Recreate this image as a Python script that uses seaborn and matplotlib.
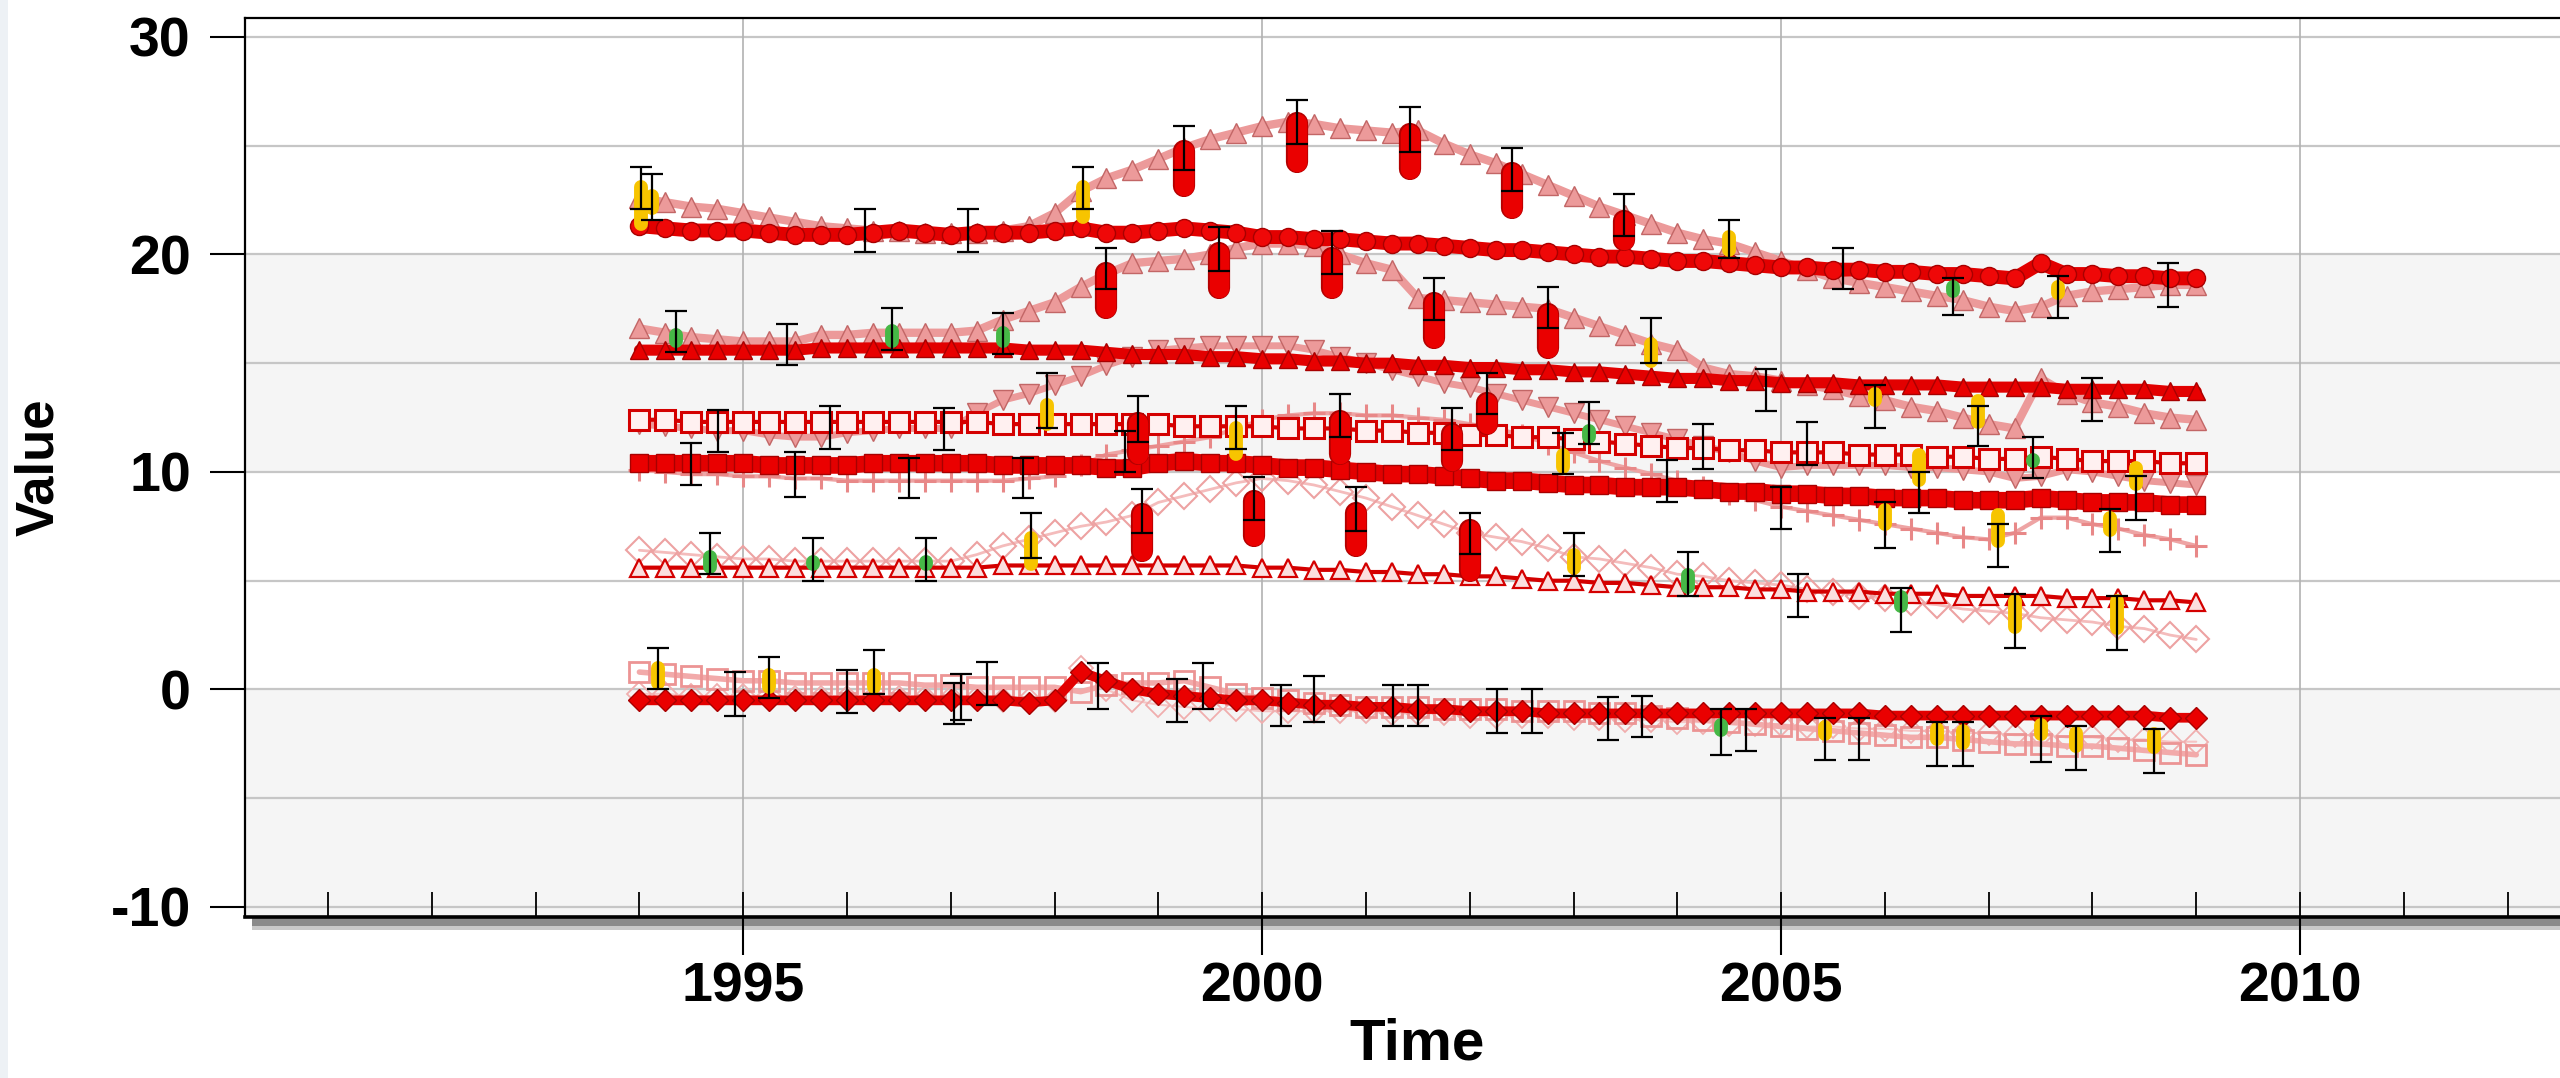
import numpy as np
import matplotlib
matplotlib.use("Agg")
import matplotlib.pyplot as plt
from matplotlib.patches import Rectangle
from matplotlib.ticker import FixedLocator
import seaborn as sns

# model output, one value per quarter year
years = np.arange(1994.0, 2009.001, 0.25)

circ_top = [
    21.3, 21.2, 21.1, 21.1, 21.1, 21.0, 20.9, 20.9, 20.9, 21.0, 21.1, 21.0,
    20.9, 21.0, 21.0, 21.0, 21.1, 21.2, 21.0, 21.0, 21.1, 21.2, 21.1, 21.0,
    20.8, 20.8, 20.7, 20.7, 20.6, 20.5, 20.5, 20.4, 20.3, 20.2, 20.2, 20.1,
    20.0, 19.9, 19.9, 19.8, 19.7, 19.7, 19.6, 19.5, 19.4, 19.4, 19.3, 19.3,
    19.2, 19.2, 19.1, 19.1, 19.0, 18.9, 19.6, 19.1, 19.1, 19.0, 19.0, 18.9,
    18.9]
tri_top = [
    22.6, 22.4, 22.2, 22.1, 21.9, 21.7, 21.5, 21.3, 21.2, 21.1, 21.1, 21.0,
    21.0, 21.0, 21.1, 21.3, 21.9, 22.9, 23.5, 23.9, 24.4, 24.9, 25.3, 25.6,
    25.9, 26.1, 26.0, 25.8, 25.7, 25.6, 25.7, 25.1, 24.6, 24.2, 23.7, 23.2,
    22.7, 22.2, 21.8, 21.4, 21.0, 20.7, 20.5, 20.1, 19.7, 19.3, 18.9, 18.7,
    18.5, 18.3, 18.1, 17.9, 17.6, 17.4, 17.6, 18.1, 18.3, 18.4, 18.5, 18.6,
    18.6]
circ_mid = [
    15.6, 15.6, 15.6, 15.6, 15.6, 15.6, 15.6, 15.7, 15.7, 15.7, 15.7, 15.7,
    15.7, 15.7, 15.7, 15.6, 15.6, 15.6, 15.5, 15.4, 15.4, 15.4, 15.3, 15.3,
    15.2, 15.2, 15.1, 15.1, 15.0, 15.0, 14.9, 14.9, 14.8, 14.8, 14.7, 14.7,
    14.6, 14.6, 14.5, 14.4, 14.3, 14.3, 14.2, 14.2, 14.1, 14.1, 14.1, 14.0,
    14.0, 14.0, 14.0, 13.9, 13.9, 13.9, 13.9, 13.8, 13.8, 13.8, 13.8, 13.7,
    13.7]
tri_mid = [
    16.6, 16.4, 16.2, 16.1, 16.0, 16.0, 16.0, 16.3, 16.3, 16.4, 16.4, 16.4,
    16.4, 16.5, 17.0, 17.4, 17.8, 18.5, 19.1, 19.6, 19.7, 19.8, 20.0, 20.3,
    20.5, 20.5, 20.4, 20.0, 19.6, 19.3, 18.0, 17.9, 17.8, 17.7, 17.6, 17.5,
    17.1, 16.7, 16.3, 15.9, 15.6, 14.8, 14.5, 14.4, 14.2, 14.0, 13.8, 13.5,
    13.3, 13.0, 12.8, 12.5, 12.2, 12.0, 14.3, 13.6, 13.2, 13.0, 12.7, 12.5,
    12.4]
sq_upper = [
    12.4, 12.4, 12.3, 12.3, 12.3, 12.3, 12.3, 12.3, 12.3, 12.3, 12.3, 12.3,
    12.3, 12.3, 12.2, 12.2, 12.2, 12.2, 12.2, 12.2, 12.2, 12.1, 12.1, 12.1,
    12.1, 12.0, 12.0, 12.0, 11.9, 11.9, 11.8, 11.8, 11.7, 11.7, 11.6, 11.6,
    11.5, 11.4, 11.3, 11.2, 11.1, 11.1, 11.0, 11.0, 10.9, 10.9, 10.9, 10.8,
    10.8, 10.8, 10.7, 10.7, 10.6, 10.6, 10.7, 10.6, 10.5, 10.5, 10.5, 10.4,
    10.4]
tri_down = [
    12.2, 12.1, 12.0, 11.9, 11.9, 11.7, 11.6, 11.6, 11.8, 11.9, 12.0, 12.0,
    12.0, 12.7, 13.3, 13.6, 14.0, 14.4, 14.9, 15.3, 15.6, 15.7, 15.8, 15.8,
    15.8, 15.8, 15.6, 15.3, 15.0, 14.7, 14.4, 14.1, 13.9, 13.6, 13.3, 13.0,
    12.7, 12.4, 12.1, 11.8, 11.5, 11.2, 10.9, 10.5, 10.2, 10.3, 10.3, 10.3,
    10.3, 10.2, 10.2, 10.1, 10.0, 9.7, 9.8, 10.1, 10.0, 9.8, 9.6, 9.5,
    9.4]
circ_low = [
    10.4, 10.4, 10.4, 10.4, 10.4, 10.3, 10.3, 10.3, 10.3, 10.4, 10.4, 10.4,
    10.4, 10.4, 10.3, 10.3, 10.3, 10.3, 10.2, 10.2, 10.4, 10.5, 10.4, 10.4,
    10.3, 10.2, 10.2, 10.1, 10.0, 9.9, 9.9, 9.8, 9.7, 9.6, 9.6, 9.5,
    9.4, 9.4, 9.3, 9.3, 9.3, 9.2, 9.1, 9.1, 9.0, 9.0, 8.9, 8.9,
    8.8, 8.8, 8.8, 8.7, 8.7, 8.7, 8.8, 8.7, 8.6, 8.6, 8.6, 8.5,
    8.5]
cross = [
    10.1, 10.0, 9.9, 9.9, 9.8, 9.8, 9.7, 9.7, 9.6, 9.6, 9.6, 9.6,
    9.6, 9.6, 9.6, 9.7, 9.8, 10.3, 10.8, 11.0, 11.2, 11.4, 11.6, 12.0,
    12.4, 12.6, 12.7, 12.7, 12.6, 12.6, 12.5, 12.4, 12.2, 12.0, 11.7, 11.3,
    10.9, 10.5, 10.2, 9.9, 9.6, 9.3, 9.0, 8.7, 8.4, 8.2, 8.0, 7.8,
    7.6, 7.4, 7.2, 7.0, 6.9, 7.2, 7.9, 7.9, 7.6, 7.4, 7.1, 6.9,
    6.6]
diamond = [
    6.4, 6.3, 6.2, 6.1, 6.0, 6.0, 5.9, 5.9, 5.9, 5.9, 5.9, 5.9,
    5.9, 6.2, 6.6, 6.9, 7.2, 7.5, 7.7, 8.0, 8.6, 8.9, 9.2, 9.5,
    9.7, 9.6, 9.4, 9.1, 8.8, 8.4, 8.0, 7.6, 7.2, 7.0, 6.8, 6.5,
    6.1, 6.0, 5.8, 5.6, 5.3, 5.2, 5.0, 4.9, 4.8, 4.6, 4.5, 4.3,
    4.2, 4.0, 3.9, 3.7, 3.6, 3.5, 3.3, 3.2, 3.1, 2.9, 2.8, 2.5,
    2.3]
tri_low = [
    5.6, 5.6, 5.6, 5.6, 5.6, 5.6, 5.6, 5.6, 5.6, 5.6, 5.6, 5.6,
    5.6, 5.6, 5.7, 5.7, 5.7, 5.7, 5.7, 5.7, 5.7, 5.7, 5.7, 5.7,
    5.6, 5.6, 5.5, 5.5, 5.4, 5.4, 5.3, 5.3, 5.2, 5.2, 5.1, 5.0,
    5.0, 4.9, 4.9, 4.8, 4.7, 4.7, 4.7, 4.6, 4.6, 4.5, 4.5, 4.5,
    4.4, 4.4, 4.4, 4.3, 4.3, 4.3, 4.3, 4.2, 4.2, 4.2, 4.1, 4.1,
    4.0]
sq_zero = [
    0.8, 0.7, 0.6, 0.5, 0.4, 0.4, 0.3, 0.3, 0.3, 0.3, 0.3, 0.2,
    0.2, 0.1, 0.1, 0.1, 0.1, -0.1, 0.2, 0.3, 0.3, 0.4, 0.1, -0.2,
    -0.4, -0.5, -0.6, -0.7, -0.8, -0.8, -0.8, -0.9, -0.9, -0.9, -1.0, -1.0,
    -1.0, -1.1, -1.1, -1.2, -1.3, -1.4, -1.5, -1.6, -1.7, -1.8, -1.9, -2.0,
    -2.1, -2.2, -2.2, -2.3, -2.4, -2.5, -2.5, -2.6, -2.6, -2.7, -2.8, -2.9,
    -3.0]
dia_light = [
    -0.2, -0.2, -0.3, -0.3, -0.3, -0.3, -0.4, -0.4, -0.4, -0.4, -0.4, -0.4,
    -0.4, -0.4, -0.5, -0.5, -0.5, 1.0, 0.0, -0.5, -0.7, -0.8, -0.9, -0.9,
    -1.0, -1.0, -1.0, -1.0, -1.0, -1.1, -1.1, -1.1, -1.2, -1.2, -1.2, -1.2,
    -1.3, -1.3, -1.4, -1.4, -1.5, -1.5, -1.6, -1.6, -1.6, -1.7, -1.7, -1.8,
    -1.8, -1.9, -1.9, -2.0, -2.0, -2.1, -2.1, -2.2, -2.2, -2.3, -2.3, -2.4,
    -2.4]
dia_red = [
    -0.5, -0.5, -0.5, -0.5, -0.5, -0.5, -0.5, -0.5, -0.5, -0.5, -0.5, -0.5,
    -0.5, -0.5, -0.5, -0.6, -0.5, 0.8, 0.4, 0.0, -0.2, -0.3, -0.4, -0.5,
    -0.5, -0.6, -0.7, -0.7, -0.8, -0.8, -0.9, -0.9, -1.0, -1.0, -1.0, -1.1,
    -1.1, -1.1, -1.1, -1.1, -1.1, -1.1, -1.1, -1.1, -1.1, -1.1, -1.1, -1.1,
    -1.2, -1.2, -1.2, -1.2, -1.2, -1.2, -1.2, -1.2, -1.2, -1.2, -1.2, -1.3,
    -1.3]

# observations: error bar top/bottom, marker kind and the coloured marker extent
nan = np.nan
obs_time = [
    1994.02, 1994.12, 1996.17, 1997.17, 1998.27, 1999.25, 2000.34, 2001.42,
    2002.41, 2003.49, 2004.50, 2005.60, 2006.66, 2007.67, 2008.73,
    1994.35, 1995.42, 1996.43, 1997.50, 1998.50, 1999.58, 2000.67, 2001.66,
    2002.75, 2003.75, 2004.85, 2005.90, 2006.90, 2008.00,
    1994.76, 1995.84, 1996.93, 1997.93, 1998.80, 1999.75, 2000.75, 2001.83,
    2002.17, 2002.90, 2003.15, 2004.25, 2005.25, 2006.33, 2007.09, 2007.43,
    2008.17, 2008.42,
    1994.68, 1995.67, 1996.76, 1997.77, 1998.84, 1999.92, 2000.90, 2002.00,
    2003.00, 2004.10, 2005.16, 2006.16, 2007.25, 2008.24,
    1994.50, 1995.50, 1996.60, 1997.70, 1998.68, 2003.90, 2005.00, 2006.00,
    1994.18, 1994.92, 1995.25, 1996.00, 1996.26, 1997.03, 1997.10, 1997.35,
    1998.42, 1999.18, 1999.43, 2000.18, 2000.50, 2001.26, 2001.50, 2002.26,
    2002.60, 2003.33, 2003.66, 2004.42, 2004.66, 2005.42, 2005.75, 2006.50,
    2006.75, 2007.50, 2007.84, 2008.59]
obs_hi = [
    24.0, 23.7, 22.1, 22.1, 24.0, 25.9, 27.1, 26.8, 24.9, 22.8, 21.6, 20.3,
    18.9, 19.0, 19.6,
    17.4, 16.8, 17.55, 17.3, 20.3, 21.25, 21.1, 18.9, 18.5, 17.1, 14.75, 14.0,
    13.05, 14.3,
    12.85, 13.05, 12.95, 14.55, 13.5, 13.05, 13.6, 12.95, 14.55, 11.8, 13.2,
    12.2, 12.3, 10.0, 7.6, 11.6, 8.3, 9.8,
    7.2, 6.95, 6.95, 8.1, 9.2, 9.75, 9.3, 8.1, 7.2, 6.3, 5.3, 4.65, 4.4, 4.3,
    11.35, 10.9, 10.65, 10.65, 11.9, 10.55, 9.3, 8.6,
    1.9, 0.8, 1.5, 0.9, 1.8, 0.3, 0.7, 1.25, 1.2, 0.5, 1.2, 0.2, 0.6, 0.2,
    0.2, 0.0, 0.0, -0.35, -0.3, -0.9, -0.9, -1.3, -1.3, -1.5, -1.5, -1.2,
    -1.7, -1.8]
obs_lo = [
    22.1, 21.6, 20.1, 20.1, 22.1, 23.9, 25.1, 24.7, 22.9, 20.85, 19.85, 18.4,
    17.2, 17.1, 17.6,
    15.5, 14.9, 15.6, 15.4, 18.4, 19.25, 19.1, 17.0, 16.6, 15.0, 12.8, 12.0,
    11.2, 12.35,
    10.9, 11.05, 11.0, 12.0, 11.4, 11.05, 11.6, 11.0, 12.65, 9.9, 11.3,
    10.15, 10.3, 8.1, 5.65, 9.7, 6.3, 7.8,
    5.3, 5.0, 5.0, 6.05, 7.2, 7.8, 7.3, 6.25, 5.2, 4.3, 3.35, 2.65, 1.9, 1.8,
    9.4, 8.85, 8.8, 8.8, 10.0, 8.6, 7.4, 6.5,
    0.0, -1.2, -0.4, -1.1, -0.2, -1.6, -1.4, -0.7, -0.9, -1.5, -0.9, -1.7,
    -1.5, -1.7, -1.7, -2.0, -2.0, -2.3, -2.2, -3.0, -2.85, -3.25, -3.25, -3.5,
    -3.5, -3.35, -3.7, -3.85]
obs_kind = [
    "Y", "Y", "N", "N", "Y", "R", "R", "R", "R", "R", "Y", "N", "G", "Y", "N",
    "G", "G", "G", "G", "R", "R", "R", "R", "R", "Y", "G", "Y", "Y", "G",
    "G", "N", "N", "Y", "R", "Y", "R", "R", "R", "Y", "G", "G", "G", "Y", "Y",
    "G", "Y", "Y",
    "G", "G", "G", "Y", "R", "R", "R", "R", "Y", "G", "N", "G", "Y", "Y",
    "N", "G", "G", "G", "G", "G", "G", "Y",
    "Y", "G", "Y", "G", "Y", "N", "N", "G", "N", "G", "G", "G", "N", "N", "N",
    "N", "N", "G", "N", "G", "G", "Y", "G", "Y", "Y", "Y", "Y", "Y"]
obs_fill_hi = [
    23.4, 23.0, nan, nan, 23.4, 25.2, 26.5, 26.0, 24.2, 22.0, 21.1, nan,
    18.8, 18.8, nan,
    16.6, 16.2, 16.8, 16.7, 19.6, 20.5, 20.3, 18.2, 17.7, 16.2, 14.3, 13.9,
    13.6, 14.0,
    12.4, nan, nan, 13.4, 12.7, 12.35, 12.8, 12.2, 13.6, 11.1, 12.2, 11.4,
    11.3, 11.1, 8.35, 10.85, 8.2, 10.5,
    6.4, 6.2, 6.2, 7.3, 8.5, 9.1, 8.55, 7.8, 6.5, 5.6, nan, 4.55, 4.4, 4.4,
    nan, 10.05, 10.0, 10.0, 11.1, 9.9, 8.7, 8.55,
    1.3, -0.1, 1.0, -0.2, 1.0, nan, nan, 0.55, nan, -0.5, 0.4, -0.5, nan,
    nan, nan, nan, nan, -1.2, nan, -1.3, -1.4, -1.4, -1.4, -1.5, -1.6, -1.3,
    -1.7, -1.75]
obs_fill_lo = [
    21.1, 21.8, nan, nan, 21.4, 22.7, 23.8, 23.5, 21.7, 20.2, 19.9, nan,
    18.0, 17.9, nan,
    15.7, 15.6, 15.7, 15.7, 17.1, 18.0, 18.0, 15.7, 15.25, 14.8, 13.9, 13.0,
    12.0, 13.7,
    12.0, nan, nan, 11.9, 10.4, 10.5, 10.4, 10.05, 11.75, 9.9, 11.3, 11.0,
    10.9, 9.3, 6.5, 10.2, 7.0, 9.15,
    5.3, 5.45, 5.45, 5.45, 5.9, 6.6, 6.15, 5.0, 5.25, 4.4, nan, 3.5, 2.55, 2.5,
    nan, 9.6, 9.6, 9.6, 10.5, 9.5, 8.1, 7.3,
    0.0, -0.4, -0.2, -0.5, -0.2, nan, nan, -0.05, nan, -0.8, 0.1, -0.8, nan,
    nan, nan, nan, nan, -1.5, nan, -2.2, -1.9, -2.35, -1.9, -2.6, -2.8, -2.35,
    -2.9, -2.95]

PINK = "#ec9a9a"
PINK_EDGE = "#c26666"
RED = "#e20000"
DARK_RED = "#a80000"

# drawing order: light model runs first, saturated red runs on top
model_runs = [
    (diamond, dict(color="#f4bcbc", lw=2, marker="D", ms=13, mfc="none", mec="#eda2a2", mew=1.5)),
    (dia_light, dict(color="#f6c4c4", lw=1.5, marker="D", ms=12, mfc="none", mec="#f0aeae", mew=1.3)),
    (cross, dict(color="#eea4a4", lw=3, marker="+", ms=16, mec="#e88888", mew=2.2)),
    (tri_down, dict(color=PINK, lw=5, marker="v", ms=14, mfc=PINK, mec=PINK_EDGE, mew=1)),
    (tri_mid, dict(color=PINK, lw=6, marker="^", ms=14, mfc=PINK, mec=PINK_EDGE, mew=1)),
    (tri_top, dict(color=PINK, lw=6, marker="^", ms=14, mfc=PINK, mec=PINK_EDGE, mew=1)),
    (sq_zero, dict(color="#f2aaaa", lw=4, marker="s", ms=15, mfc="none", mec="#ec9494", mew=2)),
    (sq_upper, dict(color="#d80000", lw=3, marker="s", ms=14, mfc="#fff0f0", mec="#d40000", mew=2.2)),
    (tri_low, dict(color="#d40000", lw=3, marker="^", ms=13, mfc="#fbdede", mec="#d40000", mew=1.6)),
    (circ_low, dict(color=RED, lw=12, marker="s", ms=13, mfc="#ea0000", mec=DARK_RED, mew=1)),
    (circ_mid, dict(color=RED, lw=8, marker="^", ms=13, mfc="#e80000", mec=DARK_RED, mew=1)),
    (circ_top, dict(color=RED, lw=10, marker="o", ms=13, mfc="#ef0808", mec=DARK_RED, mew=1)),
    (dia_red, dict(color=RED, lw=7, marker="D", ms=11, mfc="#ea0000", mec=DARK_RED, mew=1)),
]

sns.set_theme(style="white")
plt.rcParams["font.family"] = ["Liberation Sans", "DejaVu Sans"]
plt.rcParams["font.weight"] = "bold"
plt.rcParams["axes.unicode_minus"] = False

W, H = 2560, 1078
fig = plt.figure(figsize=(W / 100, H / 100), dpi=100)
fig.patch.set_facecolor("white")
ax = fig.add_axes([245 / W, 1 - 917 / H, (2600 - 245) / W, (917 - 18) / H])
ax.set_facecolor("white")
YMIN, YMAX = -10.46, 30.87
ax.set_xlim(1990.2, 2012.89)
ax.set_ylim(YMIN, YMAX)

# background bands and grid
ax.axhspan(10, 20, color="#f5f5f5", lw=0, zorder=0)
ax.axhspan(YMIN, 0, color="#f5f5f5", lw=0, zorder=0)
for yv in range(-10, 31, 5):
    ax.axhline(yv, color="#c6c6c6", lw=1.6, zorder=0.5)
for xv in [1995, 2000, 2005, 2010]:
    ax.axvline(xv, color="#b2b2b2", lw=1.2, zorder=0.5)

for vals, kw in model_runs:
    sns.lineplot(x=years, y=vals, ax=ax, estimator=None, sort=False,
                 legend=False, zorder=3, **kw)

# coloured observation markers (elongated blobs)
px_per_unit = (917 - 18) / (YMAX - YMIN)
fill_look = {"R": ("#ea0000", 14), "Y": ("#f7c400", 10), "G": ("#46b846", 10)}
for kind, (col, lw) in fill_look.items():
    sel = [i for i, k in enumerate(obs_kind) if k == kind]
    trim = lw * 100 / 72 / 2 / px_per_unit
    xs, los, his = [], [], []
    for i in sel:
        lo, hi = obs_fill_lo[i] + trim, obs_fill_hi[i] - trim
        if lo > hi:
            lo = hi = (obs_fill_lo[i] + obs_fill_hi[i]) / 2
        xs.append(obs_time[i])
        los.append(lo)
        his.append(hi)
    if kind == "R":
        under = ax.vlines(xs, los, his, colors="#b40000", lw=lw + 2, zorder=5)
        under.set_capstyle("round")
    lc = ax.vlines(xs, los, his, colors=col, lw=lw, zorder=5.5)
    lc.set_capstyle("round")

t = np.array(obs_time)
hi = np.array(obs_hi)
lo = np.array(obs_lo)
ax.errorbar(t, (hi + lo) / 2, yerr=(hi - lo) / 2, fmt="none", ecolor="black",
            elinewidth=1.6, capsize=8, capthick=1.6, zorder=7)

# axes frame
for s in ["left", "top"]:
    ax.spines[s].set_color("black")
    ax.spines[s].set_linewidth(1.6)
ax.spines["bottom"].set_color("black")
ax.spines["bottom"].set_linewidth(2.6)
ax.spines["right"].set_visible(False)

ax.set_yticks([-10, 0, 10, 20, 30])
ax.set_xticks([1995, 2000, 2005, 2010])
ax.xaxis.set_minor_locator(FixedLocator(list(range(1991, 2013))))
ax.xaxis.remove_overlapping_locs = False
ax.tick_params(axis="y", which="major", direction="out", length=25, width=1.5,
               pad=14, labelsize=40, color="black", labelcolor="black", left=True)
ax.tick_params(axis="x", which="major", direction="out", length=27, width=1.5,
               pad=5, labelsize=40, color="black", labelcolor="black", bottom=True)
ax.tick_params(axis="x", which="minor", direction="in", length=18, width=1.3,
               color="black", bottom=True)

ax.set_ylabel("Value", fontsize=38, fontweight="bold", color="black")
ax.yaxis.set_label_coords(-0.077, 0.5)
ax.set_xlabel("Time", fontsize=42, fontweight="bold", color="black")
ax.xaxis.set_label_coords(0.4977, -0.112)

# shadow under the time axis and the pale strip on the left edge
fig.patches.append(Rectangle((252 / W, 1 - 926 / H), 1, 8 / H, transform=fig.transFigure,
                             color="#8a8a8a", lw=0, zorder=-1))
fig.patches.append(Rectangle((252 / W, 1 - 930 / H), 1, 4 / H, transform=fig.transFigure,
                             color="#c8c8c8", lw=0, zorder=-1))
fig.patches.append(Rectangle((0, 0), 8 / W, 1, transform=fig.transFigure,
                             color="#edf1f5", lw=0, zorder=-1))

fig.savefig("out.png", dpi=100)
